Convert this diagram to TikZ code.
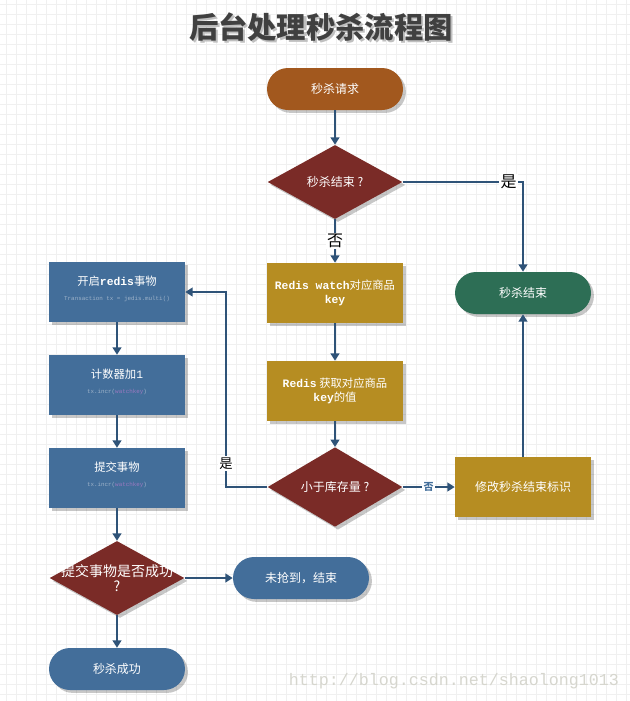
\documentclass[tikz,border=0pt]{standalone}
\usepackage{fontspec}
\setmainfont{Noto Sans CJK SC}
\newfontfamily\mono{Liberation Mono}
\newcommand\codefont{\fontsize{4.4}{5}\mono}
\usetikzlibrary{arrows.meta,shapes.geometric,shadows}

\definecolor{reqbrown}{HTML}{A2581E}
\definecolor{flowred}{HTML}{7A2B27}
\definecolor{flowgold}{HTML}{B68D22}
\definecolor{flowgreen}{HTML}{2D6E55}
\definecolor{flowblue}{HTML}{436E9A}
\definecolor{linkblue}{HTML}{2F5378}
\definecolor{subgrey}{HTML}{9DB2C9}
\definecolor{keypurple}{HTML}{9A78C0}
\definecolor{markgrey}{HTML}{D6D6CE}

\begin{document}
\begin{tikzpicture}
  [x=0.75pt,y=-0.75pt,
   gridline/.style={draw=black!6,line width=0.75pt},
   lifted/.style={drop shadow={shadow xshift=2.2pt,shadow yshift=-2.2pt,
                  fill=black,opacity=0.22}},
   terminal/.style={rectangle,rounded corners=15.75pt,fill=#1,lifted,text=white,
                    inner sep=0pt,minimum width=102pt,minimum height=31.5pt,
                    font=\fontsize{9}{11}\selectfont},
   process/.style={rectangle,fill=#1,lifted,text=white,align=center,
                   inner sep=0pt,minimum width=102pt,minimum height=45pt,
                   font=\fontsize{8.5}{11}\selectfont},
   decision/.style={diamond,fill=flowred,lifted,text=white,align=center,
                    inner sep=0pt,minimum width=101pt,minimum height=55.5pt,
                    font=\fontsize{9}{11}\selectfont},
   flow/.style={draw=linkblue,line width=1.5pt,-{Triangle[length=5.5pt,width=6.5pt]}},
   answer/.style={fill=white,inner sep=1pt,font=\fontsize{12}{12}\selectfont}]

  \useasboundingbox (0,0) rectangle (630,701);
  \fill[white] (0,0) rectangle (630,701);
  % background grid
  \foreach \gx in {6,16,...,626}
    \draw[gridline] (\gx,0) -- (\gx,701);
  \foreach \gy in {4,14,...,694}
    \draw[gridline] (0,\gy) -- (630,\gy);

  % title
  \node (titleshade) at (323,29) [text=black!25,font=\fontsize{22}{22}\bfseries]
    {后台处理秒杀流程图};
  \node (title) at (321,27) [text=black!75,font=\fontsize{22}{22}\bfseries]
    {后台处理秒杀流程图};

  % main column
  \node (req) at (335,89) [terminal=reqbrown] {秒杀请求};
  \node (isover) at (335,182) [decision] {秒杀结束 ?};
  \node (watch) at (335,293) [process=flowgold]
    {{\mono\bfseries Redis watch}对应商品\\{\mono\bfseries key}};
  \node (getval) at (335,391) [process=flowgold]
    {{\mono\bfseries Redis} 获取对应商品\\{\mono\bfseries key}的值};
  \node (lessstock) at (335,487) [decision] {小于库存量 ?};
  \node (setflag) at (523,487) [process=flowgold,font=\fontsize{9}{11}\selectfont]
    {修改秒杀结束标识};
  \node (over) at (523,293) [terminal=flowgreen] {秒杀结束};

  % transaction column
  \node (multi) at (117,292) [process=flowblue]
    {开启{\mono\bfseries redis}事物\\[0pt]
     {\codefont\color{subgrey}Transaction tx = jedis.multi()}\\[-5pt]};
  \node (incr) at (117,385) [process=flowblue]
    {计数器加{\mono 1}\\[0pt]
     {\codefont\color{subgrey}tx.incr(\textcolor{keypurple}{watchkey})}\\[-5pt]};
  \node (exec) at (117,478) [process=flowblue]
    {提交事物\\[0pt]
     {\codefont\color{subgrey}tx.incr(\textcolor{keypurple}{watchkey})}\\[-5pt]};
  \node (commit) at (117,578) [decision,
    label={[text=white,align=center,font=\fontsize{10.5}{11}\selectfont]center:提交事物是否成功\\?}] {};
  \node (fail) at (301,578) [terminal=flowblue] {未抢到，结束};
  \node (success) at (117,669) [terminal=flowblue] {秒杀成功};

  \coordinate (turn) at (226,487);

  % connectors
  \draw[flow] (req) -- (isover);
  \draw[flow] (isover.east) -| node[answer,pos=0.44] {是} (over.north);
  \draw[flow] (isover) -- node[answer] {否} (watch);
  \draw[flow] (watch) -- (getval);
  \draw[flow] (getval) -- (lessstock);
  \draw[flow] (lessstock.west) -- (turn)
    |- node[answer,pos=0.06,font=\fontsize{10}{10}\selectfont] {是} (multi.east);
  \draw[flow] (lessstock) -- node[answer,text=flowblue,
    font=\fontsize{7.5}{8}\bfseries\selectfont] {否} (setflag);
  \draw[flow] (setflag) -- (over);
  \draw[flow] (multi) -- (incr);
  \draw[flow] (incr) -- (exec);
  \draw[flow] (exec) -- (commit);
  \draw[flow] (commit) -- (fail);
  \draw[flow] (commit) -- (success);

  % watermark
  \node (mark) at (454,681) [text=markgrey,font=\fontsize{12.5}{13}\mono]
    {http://blog.csdn.net/shaolong1013};
\end{tikzpicture}
\end{document}
